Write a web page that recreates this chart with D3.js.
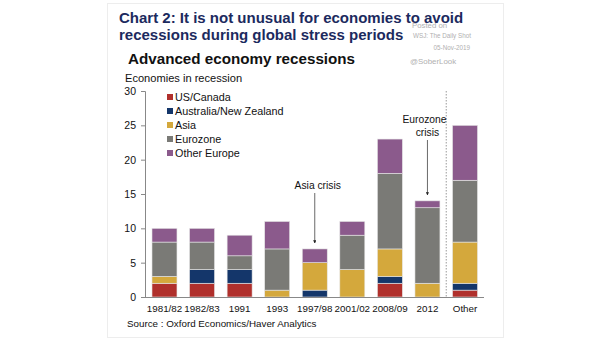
<!DOCTYPE html>
<html>
<head>
<meta charset="utf-8">
<script src="https://cdn.jsdelivr.net/npm/d3@7"></script>
<style>
  body { margin: 0; background: #fff; }
  svg { display: block; font-family: "Liberation Sans", Arial, sans-serif; }
</style>
</head>
<body>
<svg id="chart" width="605" height="341"></svg>
<script>
// Periods on the x axis
const periods = ["1981/82", "1982/83", "1991", "1993", "1997/98", "2001/02", "2008/09", "2012", "Other"];
// Number of economies in recession, by region
const usCanada     = [2, 2, 2, 0, 0, 0, 2, 0, 1];
const ausNz        = [0, 2, 2, 0, 1, 0, 1, 0, 1];
const asia         = [1, 0, 0, 1, 4, 4, 4, 2, 6];
const eurozone     = [5, 4, 2, 6, 0, 5, 11, 11, 9];
const otherEurope  = [2, 2, 3, 4, 2, 2, 5, 1, 8];
const seriesNames  = ["US/Canada", "Australia/New Zealand", "Asia", "Eurozone", "Other Europe"];
const seriesColors = ["#b0302c", "#14366a", "#d4a83c", "#7a7a76", "#8b5a8c"];
const yTicks = [0, 5, 10, 15, 20, 25, 30];

const rows = periods.map((p, i) => ({
  period: p,
  "US/Canada": usCanada[i],
  "Australia/New Zealand": ausNz[i],
  "Asia": asia[i],
  "Eurozone": eurozone[i],
  "Other Europe": otherEurope[i]
}));

const svg = d3.select("#chart");

// light frame
svg.append("rect").attr("x", 107.5).attr("y", 3.5).attr("width", 396).attr("height", 334)
  .attr("fill", "none").attr("stroke", "#ededed");

const x = d3.scaleBand().domain(periods).range([145.7, 483.8]).paddingInner(0.335).paddingOuter(0.1675);
const y = d3.scaleLinear().domain([0, 30]).range([297, 91]);

// Titles
svg.append("text").attr("x", 119).attr("y", 23).attr("fill", "#1c2a5e")
  .attr("font-size", 15).attr("font-weight", "bold").text("Chart 2: It is not unusual for economies to avoid");
svg.append("text").attr("x", 119).attr("y", 40).attr("fill", "#1c2a5e")
  .attr("font-size", 15).attr("font-weight", "bold").text("recessions during global stress periods");
svg.append("text").attr("x", 128).attr("y", 64).attr("fill", "#111")
  .attr("font-size", 15.2).attr("font-weight", "bold").text("Advanced economy recessions");
svg.append("text").attr("x", 125).attr("y", 82).attr("fill", "#111")
  .attr("font-size", 11.1).text("Economies in recession");

// Credits
const credit = svg.append("g").attr("fill", "#b0b0b0");
credit.append("text").attr("x", 412).attr("y", 27.5).attr("font-size", 7.8).text("Posted on");
credit.append("text").attr("x", 413).attr("y", 37.5).attr("font-size", 6.3).text("WSJ: The Daily Shot");
credit.append("text").attr("x", 470).attr("y", 50).attr("font-size", 6.3).attr("text-anchor", "end").text("05-Nov-2019");
credit.append("text").attr("x", 410).attr("y", 64).attr("font-size", 7.9).text("@SoberLook");

// Stacked bars
const stack = d3.stack().keys(seriesNames)(rows);
const color = d3.scaleOrdinal().domain(seriesNames).range(seriesColors);
svg.append("g").selectAll("g").data(stack).join("g")
  .attr("fill", d => color(d.key))
  .selectAll("rect").data(d => d.filter(s => s[1] > s[0])).join("rect")
  .attr("x", d => x(d.data.period))
  .attr("y", d => y(d[1]))
  .attr("width", x.bandwidth())
  .attr("height", d => y(d[0]) - y(d[1]))
  .attr("stroke", "#e6e6e6").attr("stroke-width", 0.6);

// Separator before "Other"
const sepX = (x("2012") + x.bandwidth() + x("Other")) / 2;
svg.append("line").attr("x1", sepX).attr("x2", sepX).attr("y1", y(30)).attr("y2", y(0))
  .attr("stroke", "#999").attr("stroke-dasharray", "1.5,1.5");

// Y axis
const yAxis = svg.append("g").attr("transform", "translate(145,0)")
  .call(d3.axisLeft(y).tickValues(yTicks).tickSize(4).tickPadding(5));
yAxis.select(".domain").attr("stroke", "#888");
yAxis.selectAll(".tick line").attr("stroke", "#888");
yAxis.selectAll("text").attr("font-size", 10.5).attr("fill", "#111").attr("font-family", "Liberation Sans, Arial, sans-serif");

// X axis
const xAxis = svg.append("g").attr("transform", `translate(0,${y(0)})`)
  .call(d3.axisBottom(x).tickSize(0).tickPadding(8));
xAxis.select(".domain").attr("stroke", "#888").attr("d", "M145,0.5H484");
xAxis.selectAll("text").attr("font-size", 9.8).attr("fill", "#111").attr("font-family", "Liberation Sans, Arial, sans-serif");

// Legend
const legend = svg.append("g");
seriesNames.forEach((name, i) => {
  const ly = 97 + i * 14;
  legend.append("rect").attr("x", 167).attr("y", ly - 3).attr("width", 6).attr("height", 6).attr("fill", seriesColors[i]);
  legend.append("text").attr("x", 175).attr("y", ly + 4).attr("font-size", 10.8).attr("fill", "#111").text(name);
});

// Annotations with arrows
svg.append("defs").append("marker").attr("id", "arrow").attr("viewBox", "0 0 6 6")
  .attr("refX", 5).attr("refY", 3).attr("markerWidth", 4).attr("markerHeight", 4).attr("orient", "auto")
  .append("path").attr("d", "M0,0L6,3L0,6Z").attr("fill", "#222");

const asiaX = x("1997/98") + x.bandwidth() / 2;
svg.append("text").attr("x", asiaX + 3).attr("y", 189).attr("text-anchor", "middle")
  .attr("font-size", 10.3).attr("fill", "#111").text("Asia crisis");
svg.append("line").attr("x1", asiaX).attr("x2", asiaX).attr("y1", 193).attr("y2", y(7) - 6)
  .attr("stroke", "#444").attr("stroke-width", 0.8).attr("marker-end", "url(#arrow)");

const ezX = x("2012") + x.bandwidth() / 2;
svg.append("text").attr("x", ezX - 3).attr("y", 122.5).attr("text-anchor", "middle")
  .attr("font-size", 10.3).attr("fill", "#111").text("Eurozone");
svg.append("text").attr("x", ezX).attr("y", 135.5).attr("text-anchor", "middle")
  .attr("font-size", 10.3).attr("fill", "#111").text("crisis");
svg.append("line").attr("x1", ezX).attr("x2", ezX).attr("y1", 140).attr("y2", y(14) - 6)
  .attr("stroke", "#444").attr("stroke-width", 0.8).attr("marker-end", "url(#arrow)");

// Source
svg.append("text").attr("x", 127).attr("y", 327).attr("font-size", 9.8).attr("fill", "#111")
  .text("Source : Oxford Economics/Haver Analytics");
</script>
</body>
</html>
